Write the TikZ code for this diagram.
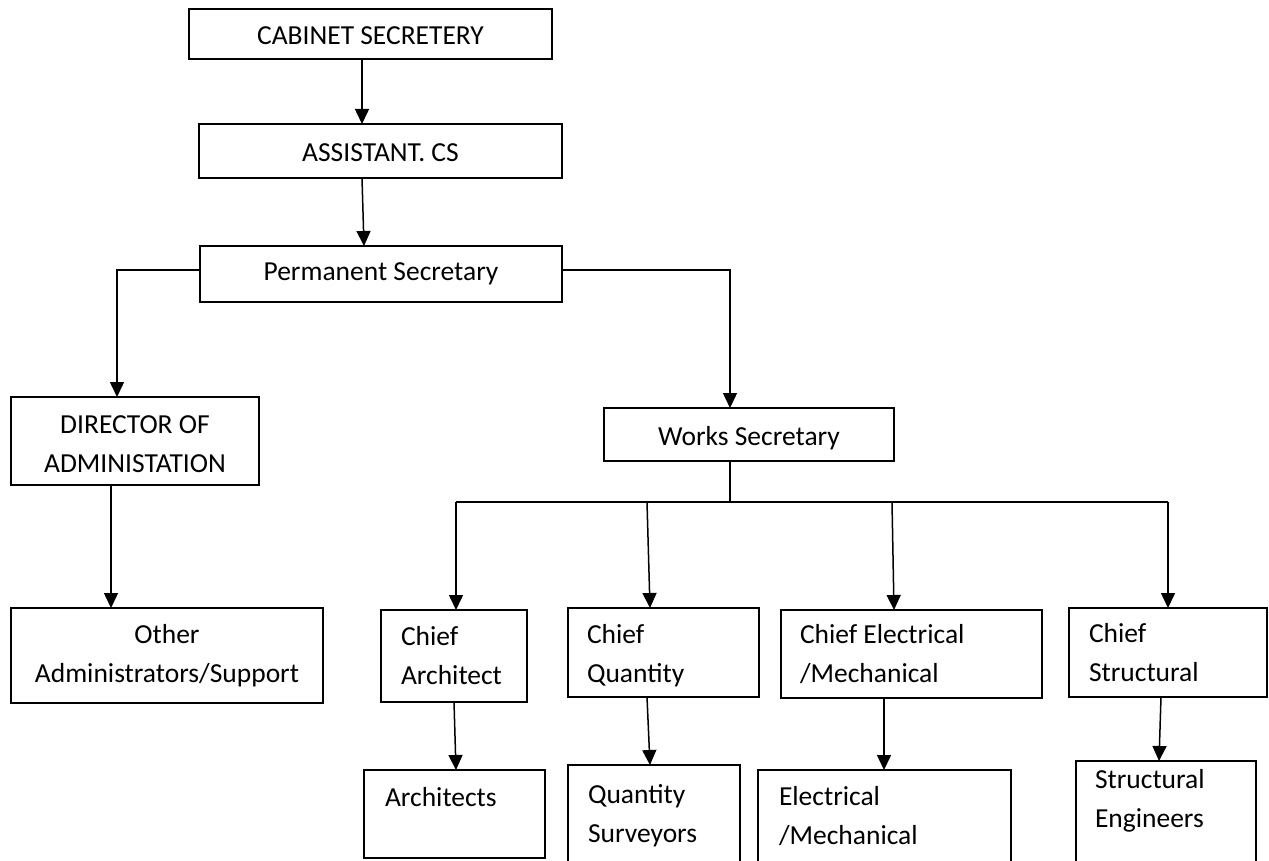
\documentclass[tikz,border=0pt]{standalone}
\usepackage{fontspec}
\setmainfont{Carlito}
\usetikzlibrary{arrows.meta}
\newcommand\ostrut{\vrule width0pt height20pt depth19.2pt}
\newcommand\Ln[2]{\hbox to \hsize{\hskip#1pt\ostrut#2\hfil}}
\newcommand\Ct[1]{\hbox to \hsize{\hfil\ostrut#1\hfil}}
\newcommand\orgbox[7]{\node[orgbox] (#1) at (#2,#3) {\vbox to \dimexpr#5pt-#3pt\relax{\hsize=\dimexpr#4pt-#2pt\relax\baselineskip=39.2pt\lineskip=0pt\lineskiplimit=-100pt\vskip\dimexpr#6pt-20pt\relax #7\vfil}};}
\tikzset{
  orgbox/.style={draw, line width=1.7pt, inner sep=0pt, outer sep=0pt, anchor=north west,
    font=\fontsize{27.5}{39.2}\selectfont},
  conn/.style={line width=1.5pt},
  arr/.style={line width=1.5pt, -{Triangle[width=14pt,length=15pt]}}
}
\begin{document}
\begin{tikzpicture}[x=1pt,y=-1pt]
\useasboundingbox (0,0) rectangle (1269,861);
\fill[white] (0,0) rectangle (1269,861);
\clip (0,0) rectangle (1269,861);
\orgbox{cab}{189}{9}{552}{59}{36}{\Ct{CABINET SECRETERY}}
\orgbox{asst}{199}{124}{562}{178}{38}{\Ct{ASSISTANT. CS}}
\orgbox{perm}{200}{246}{562}{302}{34}{\Ct{Permanent Secretary}}
\orgbox{works}{604}{408}{894}{461}{37}{\Ct{Works Secretary}}
\orgbox{dir}{11}{397}{259}{485}{36}{\Ct{DIRECTOR OF}\Ct{ADMINISTATION}}
\orgbox{oth}{11}{608}{323}{703}{35}{\Ct{Other}\Ct{Administrators/Support}}
\orgbox{ca}{381}{610}{527}{702}{35}{\Ln{20}{Chief}\Ln{20}{Architect}}
\orgbox{cq}{568}{608}{759}{697}{35}{\Ln{19}{Chief}\Ln{19}{Quantity}}
\orgbox{ce}{781}{610}{1042}{698}{33}{\Ln{19}{Chief Electrical}\Ln{19}{/Mechanical}}
\orgbox{cs}{1069}{608}{1267}{697}{34}{\Ln{20}{Chief}\Ln{20}{Structural}}
\orgbox{arch}{364}{770}{545}{858}{36}{\Ln{21}{Architects}}
\orgbox{qs}{568}{765}{740}{880}{38}{\Ln{20}{Quantity}\Ln{20}{Surveyors}}
\orgbox{em}{758}{770}{1011}{880}{35}{\Ln{21}{Electrical}\Ln{21}{/Mechanical}}
\orgbox{se}{1076}{761}{1256}{880}{27}{\Ln{19}{Structural}\Ln{19}{Engineers}}
% connectors
\draw[arr] (cab.south -| 362,0) -- (asst.north -| 362,0);
\draw[arr] (asst.south -| 362,0) -- (perm.north -| 364,0);
\coordinate (pl) at (117,270);
\coordinate (pr) at (730,270);
\draw[arr] (perm.west |- pl) -- (pl) -- (dir.north -| pl);
\draw[arr] (perm.east |- pr) -- (pr) -- (works.north -| pr);
\draw[arr] (dir.south -| 111,0) -- (oth.north -| 111,0);
\coordinate (bus) at (730,502);
\coordinate (busL) at (456,502);
\coordinate (busQ) at (647,502);
\coordinate (busE) at (892,502);
\coordinate (busR) at (1168,502);
\draw[conn] (works.south -| bus) -- (bus);
\draw[conn] (busL) -- (busR);
\draw[arr] (busL) -- (ca.north -| busL);
\draw[arr] (busQ) -- (cq.north -| 650,0);
\draw[arr] (busE) -- (ce.north -| 894,0);
\draw[arr] (busR) -- (cs.north -| busR);
\draw[arr] (ca.south -| 454,0) -- (arch.north -| 456,0);
\draw[arr] (cq.south -| 647,0) -- (qs.north -| 650,0);
\draw[arr] (ce.south -| 884,0) -- (em.north -| 884,0);
\draw[arr] (cs.south -| 1161,0) -- (se.north -| 1159,0);
\end{tikzpicture}
\end{document}
